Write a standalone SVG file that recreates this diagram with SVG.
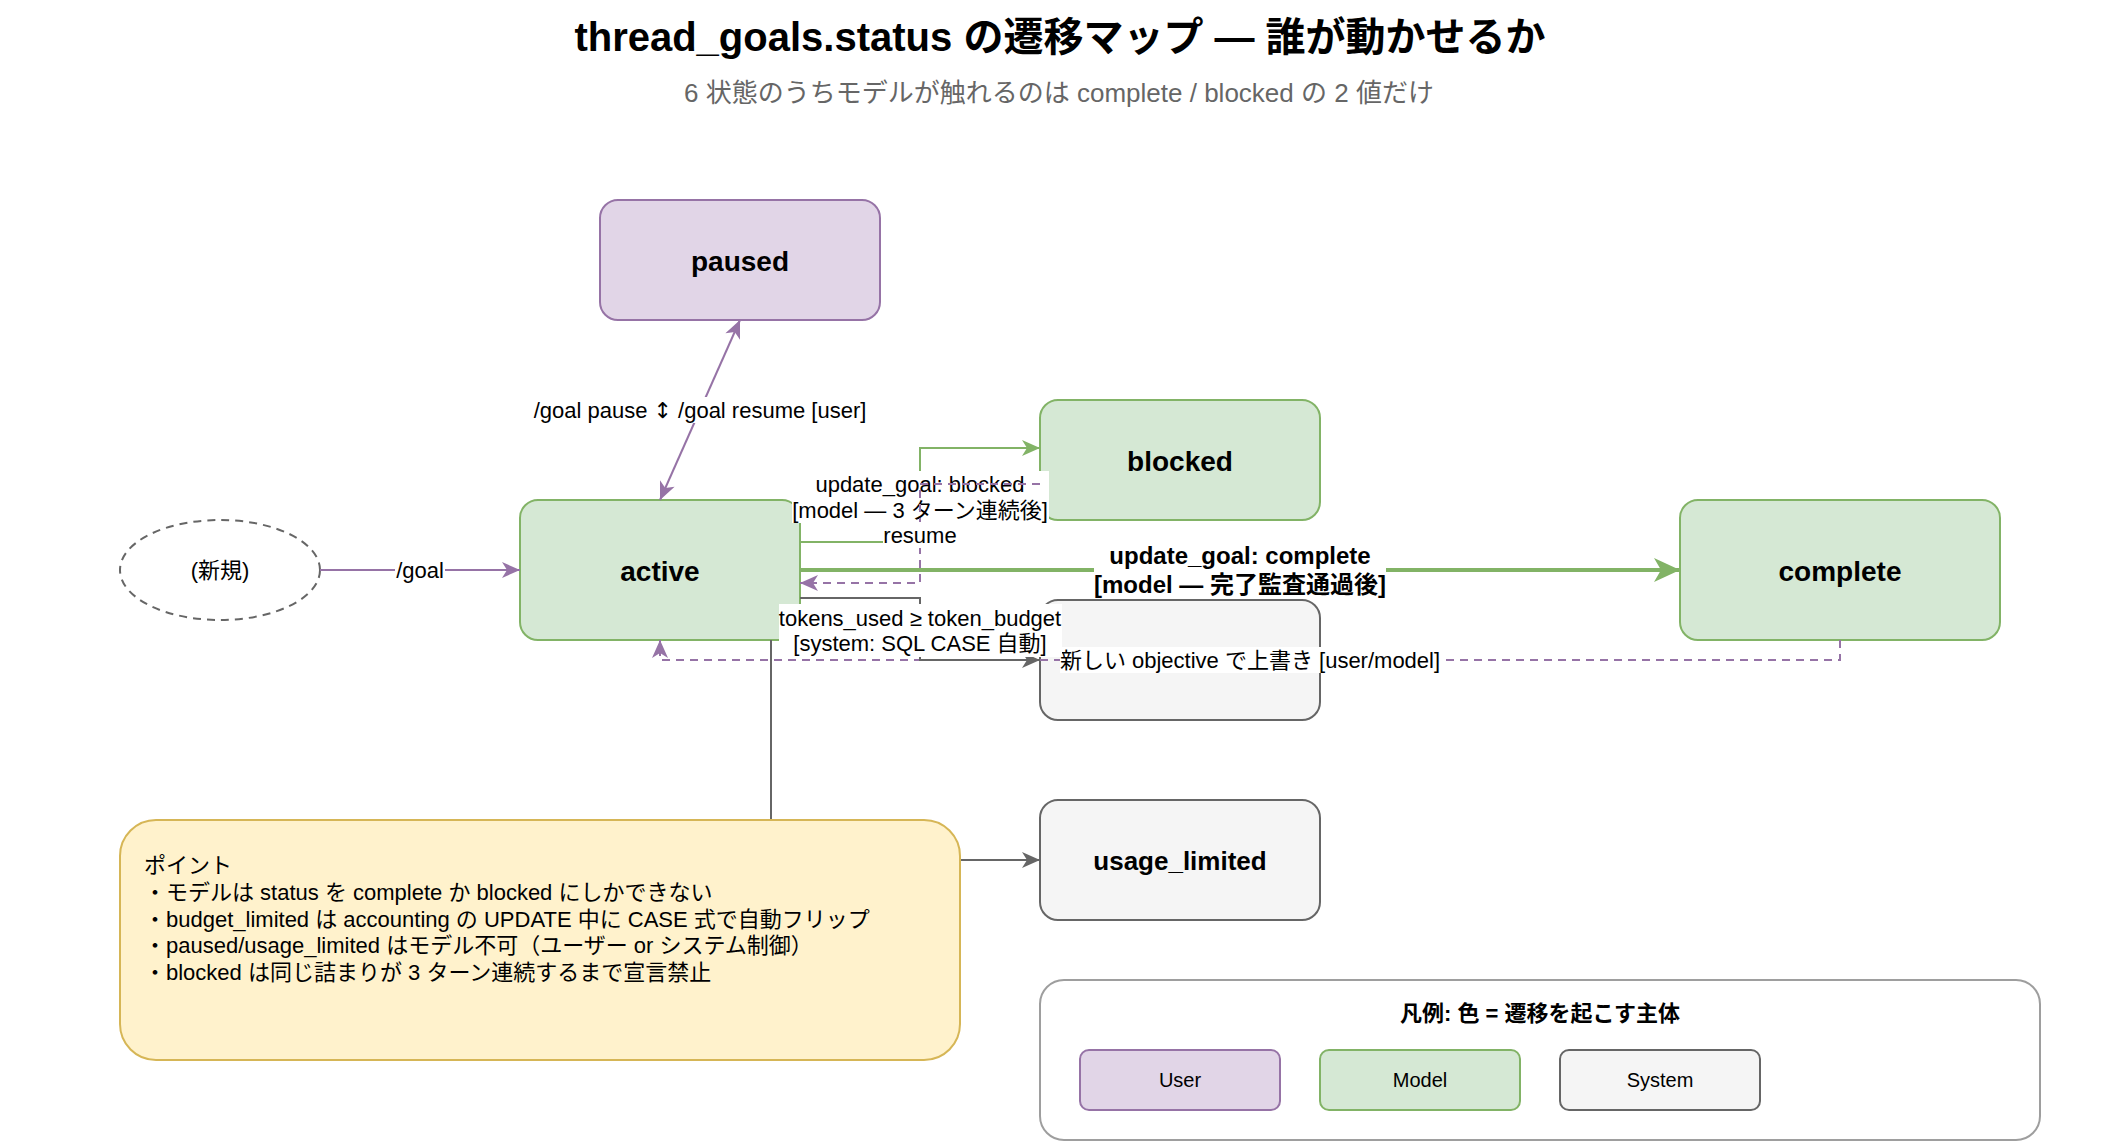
<svg xmlns="http://www.w3.org/2000/svg" width="2122" height="1143" viewBox="0 0 2122 1143">
<style>
text{font-family:"Liberation Sans","Noto Sans CJK JP",sans-serif;fill:#000;dominant-baseline:central}
.c{text-anchor:middle}
.state{font-size:28px;font-weight:bold}
.user{fill:#E1D5E7;stroke:#9673A6;stroke-width:2}
.model{fill:#D5E8D4;stroke:#82B366;stroke-width:2}
.sys{fill:#F5F5F5;stroke:#666666;stroke-width:2}
.lbl{font-size:22px}
.bg{fill:#ffffff}
.e{fill:none;stroke-width:2}
.pu{stroke:#9673A6}
.gr{stroke:#82B366}
.gy{stroke:#666666}
.dash{stroke-dasharray:8 6}
.note{font-size:22px}
</style>
<defs>
<marker id="aP" markerUnits="userSpaceOnUse" markerWidth="18" markerHeight="16" refX="18" refY="8" orient="auto-start-reverse" overflow="visible"><path d="M0,0 L18,8 L0,16 L5,8 Z" fill="#9673A6"/></marker>
<marker id="aG" markerUnits="userSpaceOnUse" markerWidth="18" markerHeight="16" refX="18" refY="8" orient="auto" overflow="visible"><path d="M0,0 L18,8 L0,16 L5,8 Z" fill="#82B366"/></marker>
<marker id="aG2" markerUnits="userSpaceOnUse" markerWidth="26" markerHeight="24" refX="26" refY="12" orient="auto" overflow="visible"><path d="M0,0 L26,12 L0,24 L7,12 Z" fill="#82B366"/></marker>
<marker id="aY" markerUnits="userSpaceOnUse" markerWidth="18" markerHeight="16" refX="18" refY="8" orient="auto" overflow="visible"><path d="M0,0 L18,8 L0,16 L5,8 Z" fill="#666666"/></marker>
</defs>
<rect x="0" y="0" width="2122" height="1143" fill="#ffffff"/>
<g id="title">
<text x="1060" y="37" class="c" style="font-size:40px;font-weight:bold">thread_goals.status の遷移マップ — 誰が動かせるか</text>
<text x="1059" y="93" class="c" style="font-size:26px;fill:#666666">6 状態のうちモデルが触れるのは complete / blocked の 2 値だけ</text>
</g>
<g id="node-new">
<ellipse cx="220" cy="570" rx="100" ry="50" fill="#ffffff" stroke="#666666" stroke-width="2" stroke-dasharray="8 6"/>
<text x="220" y="570" class="c" font-size="22">(新規)</text>
</g>
<g id="node-paused">
<rect x="600" y="200" width="280" height="120" rx="18" class="user"/>
<text x="740" y="261" class="c state">paused</text>
</g>
<g id="node-active">
<rect x="520" y="500" width="280" height="140" rx="18" class="model"/>
<text x="660" y="571" class="c state">active</text>
</g>
<g id="node-blocked">
<rect x="1040" y="400" width="280" height="120" rx="18" class="model"/>
<text x="1180" y="461" class="c state">blocked</text>
</g>
<g id="node-complete">
<rect x="1680" y="500" width="320" height="140" rx="18" class="model"/>
<text x="1840" y="571" class="c state">complete</text>
</g>
<g id="node-budget-limited">
<rect x="1040" y="600" width="280" height="120" rx="18" class="sys"/>
</g>
<g id="node-usage-limited">
<rect x="1040" y="800" width="280" height="120" rx="18" class="sys"/>
<text x="1180" y="861" class="c state" style="font-size:26px">usage_limited</text>
</g>
<g id="connectors">
<path d="M660,500 L740,320" class="e pu" marker-start="url(#aP)" marker-end="url(#aP)"/>
<rect x="536" y="397" width="328" height="26" class="bg"/>
<text x="700" y="410" class="c lbl">/goal pause <tspan style="font-family:'DejaVu Sans',sans-serif">↕</tspan> /goal resume [user]</text>

<path d="M320,570 L520,570" class="e pu" marker-end="url(#aP)"/>
<rect x="395" y="557" width="50" height="26" class="bg"/>
<text x="420" y="570" class="c lbl">/goal</text>

<path d="M800,542 L920,542 L920,448 L1040,448" class="e gr" marker-end="url(#aG)"/>
<rect x="792" y="471" width="257" height="52" class="bg"/>
<text x="920" y="484" class="c lbl">update_goal: blocked</text>
<text x="920" y="510" class="c lbl">[model — 3 ターン連続後]</text>

<path d="M1040,484 L920,484 L920,583 L800,583" class="e pu dash" marker-end="url(#aP)"/>
<rect x="883" y="522" width="74" height="26" class="bg"/>
<text x="920" y="535" class="c lbl">resume</text>

<path d="M800,570 L1680,570" fill="none" stroke="#82B366" stroke-width="4" marker-end="url(#aG2)"/>
<rect x="1094" y="541" width="292" height="58" class="bg"/>
<text x="1240" y="555" class="c" style="font-size:24px;font-weight:bold">update_goal: complete</text>
<text x="1240" y="584" class="c" style="font-size:24px;font-weight:bold">[model — 完了監査通過後]</text>

<path d="M1840,640 L1840,660 L660,660 L660,640" class="e pu dash" marker-end="url(#aP)"/>
<rect x="1060" y="647" width="381" height="26" class="bg"/>
<text x="1250" y="660" class="c lbl">新しい objective で上書き [user/model]</text>

<path d="M800,598 L920,598 L920,660 L1040,660" class="e gy" marker-end="url(#aY)"/>
<rect x="779" y="604" width="283" height="53" class="bg"/>
<text x="920" y="618" class="c lbl">tokens_used ≥ token_budget</text>
<text x="920" y="643" class="c lbl">[system: SQL CASE 自動]</text>

<path d="M771,640 L771,860 L1040,860" class="e gy" marker-end="url(#aY)"/>
</g>
<g id="node-notes">
<rect x="120" y="820" width="840" height="240" rx="36" fill="#FFF2CC" stroke="#D6B656" stroke-width="2"/>
<text x="144" y="865" class="note">ポイント</text>
<text x="144" y="892" class="note">・モデルは status を complete か blocked にしかできない</text>
<text x="144" y="919" class="note">・budget_limited は accounting の UPDATE 中に CASE 式で自動フリップ</text>
<text x="144" y="945" class="note">・paused/usage_limited はモデル不可（ユーザー or システム制御）</text>
<text x="144" y="972" class="note">・blocked は同じ詰まりが 3 ターン連続するまで宣言禁止</text>
</g>
<g id="legend">
<rect x="1040" y="980" width="1000" height="160" rx="24" fill="#ffffff" stroke="#9E9E9E" stroke-width="2"/>
<text x="1540" y="1013" class="c" style="font-size:22px;font-weight:bold">凡例: 色 = 遷移を起こす主体</text>
<g id="legend-user">
<rect x="1080" y="1050" width="200" height="60" rx="9" class="user"/>
<text x="1180" y="1080" class="c" font-size="20">User</text>
</g>
<g id="legend-model">
<rect x="1320" y="1050" width="200" height="60" rx="9" class="model"/>
<text x="1420" y="1080" class="c" font-size="20">Model</text>
</g>
<g id="legend-system">
<rect x="1560" y="1050" width="200" height="60" rx="9" class="sys"/>
<text x="1660" y="1080" class="c" font-size="20">System</text>
</g>
</g>
</svg>
